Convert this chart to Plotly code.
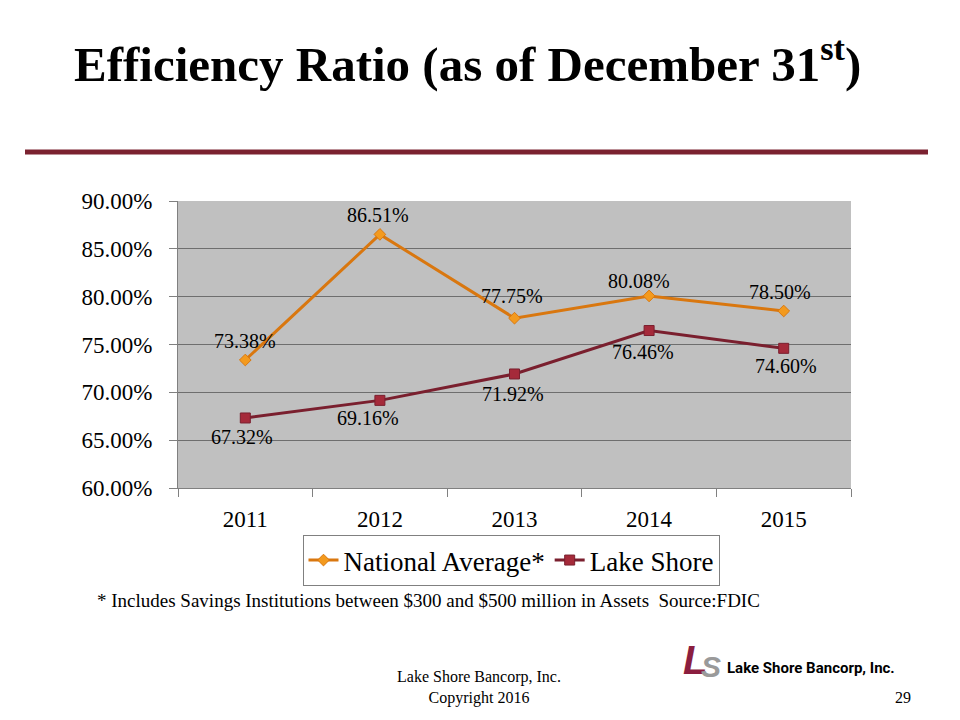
import plotly.graph_objects as go

years = ["2011", "2012", "2013", "2014", "2015"]
national_avg = [73.38, 86.51, 77.75, 80.08, 78.50]
lake_shore = [67.32, 69.16, 71.92, 76.46, 74.60]
y_ticks = [60, 65, 70, 75, 80, 85, 90]

SERIF = "Liberation Serif, Times New Roman, serif"
SANS = "Liberation Sans, Arial, sans-serif"
ORANGE = "#D9770F"
ORANGE_M = "#F39A1E"
MAROON = "#7A1F2E"
MAROON_M = "#A52A3A"

# plot area in pixels (left, right, top, bottom)
PL, PR, PT, PB = 178, 851, 201, 488


def px(x):
    return (x - PL) / (PR - PL)


def py(y):
    return (PB - y) / (PB - PT)


fig = go.Figure()
fig.add_trace(go.Scatter(
    x=years, y=national_avg, mode="lines+markers", name="National Average*",
    line=dict(color=ORANGE, width=3),
    marker=dict(symbol="diamond", size=9, color=ORANGE_M, line=dict(color=ORANGE, width=1)),
))
fig.add_trace(go.Scatter(
    x=years, y=lake_shore, mode="lines+markers", name="Lake Shore",
    line=dict(color=MAROON, width=3),
    marker=dict(symbol="square", size=10, color=MAROON_M, line=dict(color=MAROON, width=1)),
))

# data labels
nat_shift = [(0, 19), (-2, 19), (-3, 22), (-10, 15), (-4, 19)]
ls_shift = [(-3, -19), (-12, -18), (-2, -20), (-6, -21), (2, -18)]
for i, (v, (dx, dy)) in enumerate(zip(national_avg, nat_shift)):
    fig.add_annotation(x=i, y=v, xref="x", yref="y", text=f"{v:.2f}%", showarrow=False,
                       xshift=dx, yshift=dy, font=dict(family=SERIF, size=20, color="black"))
for i, (v, (dx, dy)) in enumerate(zip(lake_shore, ls_shift)):
    fig.add_annotation(x=i, y=v, xref="x", yref="y", text=f"{v:.2f}%", showarrow=False,
                       xshift=dx, yshift=dy, font=dict(family=SERIF, size=20, color="black"))

# title
fig.add_annotation(xref="paper", yref="paper", x=px(467), y=py(60),
                   text="<b>Efficiency Ratio (as of December 31<sup>st</sup>)</b>", showarrow=False,
                   xanchor="center", yanchor="middle",
                   font=dict(family=SERIF, size=49, color="black"))
# rule
fig.add_shape(type="line", xref="paper", yref="paper",
              x0=px(25), x1=px(928), y0=py(152), y1=py(152),
              line=dict(color="#7B2230", width=5))
# footnote
fig.add_annotation(xref="paper", yref="paper", x=px(95), y=py(600),
                   text="* Includes Savings Institutions between $300 and $500 million in Assets  Source:FDIC",
                   showarrow=False, xanchor="left", yanchor="middle",
                   font=dict(family=SERIF, size=19, color="black"))
# footer
fig.add_annotation(xref="paper", yref="paper", x=px(479), y=py(687),
                   text="Lake Shore Bancorp, Inc.<br>Copyright 2016", showarrow=False,
                   xanchor="center", yanchor="middle", align="center",
                   font=dict(family=SERIF, size=16, color="black"))
fig.add_annotation(xref="paper", yref="paper", x=px(913), y=py(697),
                   text="29", showarrow=False, xanchor="right", yanchor="middle",
                   font=dict(family=SERIF, size=16, color="black"))
# logo
fig.add_annotation(xref="paper", yref="paper", x=px(695), y=py(660),
                   text="<b><i>L</i></b>", showarrow=False, xanchor="center", yanchor="middle",
                   font=dict(family=SANS, size=40, color="#8B1E3F"))
fig.add_annotation(xref="paper", yref="paper", x=px(711), y=py(666),
                   text="<b><i>S</i></b>", showarrow=False, xanchor="center", yanchor="middle",
                   font=dict(family=SANS, size=30, color="#9A9A9A"))
fig.add_annotation(xref="paper", yref="paper", x=px(725), y=py(668),
                   text="<b>Lake Shore Bancorp, Inc.</b>", showarrow=False, xanchor="left", yanchor="middle",
                   font=dict(family="Liberation Sans Narrow, Arial Narrow, Roboto, sans-serif",
                             size=15, color="black"))

fig.update_layout(
    width=960, height=720,
    margin=dict(l=PL, r=960 - PR, t=PT, b=720 - PB, pad=0),
    paper_bgcolor="white", plot_bgcolor="#C0C0C0",
    showlegend=True,
    legend=dict(orientation="h", x=px(511), y=py(535),
                xanchor="center", yanchor="top",
                bordercolor="#808080", borderwidth=1, bgcolor="white",
                font=dict(family=SERIF, size=27, color="black"),
                itemwidth=30, tracegroupgap=0),
    font=dict(family=SERIF, color="black"),
)
fig.update_xaxes(type="category", range=[-0.5, 4.5], showgrid=False,
                 showline=True, linecolor="#808080", linewidth=1,
                 ticks="outside", ticklen=8, tickcolor="#808080", tickson="boundaries",
                 tickfont=dict(family=SERIF, size=23, color="black"), ticklabelstandoff=10)
fig.update_yaxes(range=[60, 90], tickvals=y_ticks,
                 ticktext=[f"{t:.2f}%" for t in y_ticks],
                 showgrid=True, gridcolor="#6E6E6E", gridwidth=1,
                 showline=True, linecolor="#808080", linewidth=1,
                 ticks="outside", ticklen=8, tickcolor="#808080",
                 tickfont=dict(family=SERIF, size=23, color="black"), ticklabelstandoff=12,
                 zeroline=False)

fig.write_html("out.html", post_script="document.body.style.margin='0';",
               config={"displayModeBar": False})
